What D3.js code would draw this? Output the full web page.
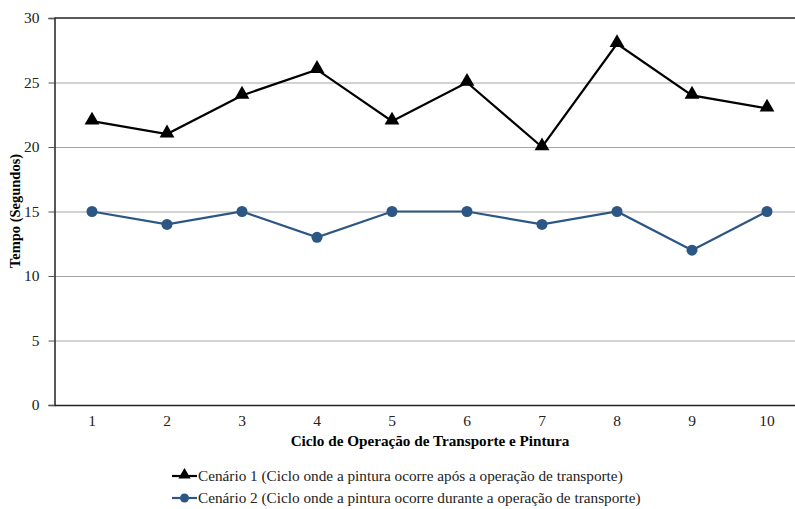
<!DOCTYPE html>
<html><head><meta charset="utf-8">
<script src="https://cdn.jsdelivr.net/npm/d3@7"></script>
<style>body{margin:0;background:#fff}svg{display:block}svg text{font-family:"Liberation Serif","Times New Roman",serif !important}</style>
</head><body>
<svg id="c" width="795" height="509"></svg>
<script>
const categories = ["1","2","3","4","5","6","7","8","9","10"];
const scenario1 = [22,21,24,26,22,25,20,28,24,23];
const scenario2 = [15,14,15,13,15,15,14,15,12,15];
const yTicks = [0,5,10,15,20,25,30];
const seriesNames = ["Cenário 1 (Ciclo onde a pintura ocorre após a operação de transporte)","Cenário 2 (Ciclo onde a pintura ocorre durante a operação de transporte)"];

const FONT = "Liberation Serif";
const svg = d3.select("#c");
const L = 54.5, R = 804.5, T = 18, B = 405;
const x = d3.scaleBand().domain(categories).range([L, R]);
const y = d3.scaleLinear().domain([0,30]).range([B, T]);

svg.append("g").selectAll("line").data(yTicks.filter(d=>d>0&&d<30)).join("line")
  .attr("x1", L).attr("x2", R).attr("y1", d=>y(d)+0.5).attr("y2", d=>y(d)+0.5)
  .attr("stroke", "#a6a6a6").attr("stroke-width", 1);
svg.append("line").attr("x1", L).attr("x2", R).attr("y1", y(30)).attr("y2", y(30)).attr("stroke", "#222").attr("stroke-width", 1.5);

const yAxis = svg.append("g").attr("transform", `translate(${L},0)`)
  .call(d3.axisLeft(y).tickValues(yTicks).tickSize(6).tickPadding(9));
yAxis.attr("font-family", FONT);
yAxis.select(".domain").attr("stroke", "#222").attr("stroke-width", 1.5);
yAxis.selectAll(".tick line").attr("stroke", "#555");
yAxis.selectAll("text").attr("font-size", 15.5).attr("fill", "#222");

const xAxis = svg.append("g").attr("transform", `translate(0,${B})`)
  .call(d3.axisBottom(x).tickSize(0).tickPadding(10));
xAxis.attr("font-family", FONT);
xAxis.select(".domain").attr("stroke", "#222").attr("stroke-width", 1.5);
xAxis.selectAll("text").attr("font-size", 15.5).attr("fill", "#222");

const cx = d => x(d) + x.bandwidth()/2;
const line = d3.line().x((d,i)=>cx(categories[i])).y(d=>y(d));

const blue = "#2c5684";
svg.append("path").datum(scenario2).attr("d", line).attr("fill","none").attr("stroke", blue).attr("stroke-width", 2.2);
svg.append("g").selectAll("circle").data(scenario2).join("circle")
  .attr("cx",(d,i)=>cx(categories[i])).attr("cy", d=>y(d)).attr("r", 5.5).attr("fill", blue);

svg.append("path").datum(scenario1).attr("d", line).attr("fill","none").attr("stroke", "#000").attr("stroke-width", 2.2);
const tri = d3.symbol().type(d3.symbolTriangle).size(95);
svg.append("g").selectAll("path").data(scenario1).join("path")
  .attr("transform",(d,i)=>`translate(${cx(categories[i])},${y(d)-1})`).attr("d", tri()).attr("fill","#000");

svg.append("text").attr("x", 430).attr("y", 446).attr("text-anchor","middle").attr("font-family", FONT)
  .attr("font-size", 15.2).attr("font-weight","bold").attr("fill","#000").text("Ciclo de Operação de Transporte e Pintura");
svg.append("text").attr("transform","translate(20,211) rotate(-90)").attr("text-anchor","middle").attr("font-family", FONT)
  .attr("font-size", 14.5).attr("font-weight","bold").attr("fill","#000").text("Tempo (Segundos)");

const lg = svg.append("g");
[0,1].forEach(i=>{
  const yy = 476 + i*22;
  const g = lg.append("g").attr("transform", `translate(172,${yy})`);
  g.append("line").attr("x1",0).attr("x2",25).attr("y1",0).attr("y2",0).attr("stroke", i? blue : "#000").attr("stroke-width",2.2);
  if (i===0) g.append("path").attr("transform","translate(12.5,-1)").attr("d", d3.symbol().type(d3.symbolTriangle).size(65)()).attr("fill","#000");
  else g.append("circle").attr("cx",12.5).attr("cy",0).attr("r",4.5).attr("fill",blue);
  g.append("text").attr("x",26).attr("y",5).attr("font-family", FONT).attr("font-size",15.25).attr("fill","#222").text(seriesNames[i]);
});
</script>
</body></html>
